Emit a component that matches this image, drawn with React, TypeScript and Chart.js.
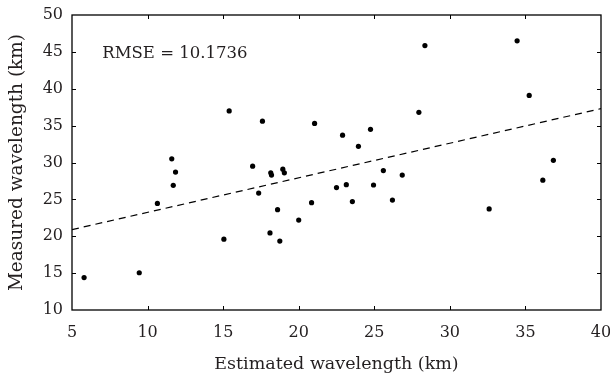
import React, { useEffect, useRef } from "react";
import { Chart, registerables } from "chart.js";

Chart.register(...registerables);

const estimated = [
  5.8, 9.45, 10.65, 11.6, 11.85, 11.7, 15.05, 15.4, 16.95, 17.35, 17.6, 18.1, 18.15,
  18.2, 18.6, 18.75, 18.95, 19.05, 20.0, 20.85, 21.05, 22.5, 22.9, 23.15, 23.55,
  23.95, 24.75, 24.95, 25.6, 26.2, 26.85, 27.95, 28.35, 32.6, 34.45, 35.25, 36.15, 36.85,
];
const measured = [
  14.4, 15.05, 24.45, 30.5, 28.7, 26.9, 19.6, 37.0, 29.5, 25.85, 35.6, 20.45, 28.6,
  28.3, 23.6, 19.35, 29.1, 28.6, 22.2, 24.55, 35.3, 26.6, 33.7, 27.0, 24.7,
  32.2, 34.5, 26.95, 28.9, 24.9, 28.3, 36.8, 45.85, 23.7, 46.5, 39.1, 27.6, 30.3,
];
const fitX = [5, 40];
const fitY = [20.9, 37.3];
const xTicks = [5, 10, 15, 20, 25, 30, 35, 40];
const yTicks = [10, 15, 20, 25, 30, 35, 40, 45, 50];
const rmseLabel = "RMSE = 10.1736";
const xTitle = "Estimated wavelength (km)";
const yTitle = "Measured wavelength (km)";

const FONT = "'DejaVu Serif', serif";
const TEXT = "#231f20";

const framePlugin = {
  id: "frame",
  afterDraw(chart: any) {
    const { ctx, chartArea } = chart;
    const xs = chart.scales.x;
    const ys = chart.scales.y;
    const { left, right, top, bottom } = chartArea;
    ctx.save();
    ctx.strokeStyle = "#000";
    ctx.lineWidth = 1.3;
    ctx.strokeRect(left, top, right - left, bottom - top);
    ctx.lineWidth = 1;
    const len = 4;
    ctx.beginPath();
    xTicks.slice(1, -1).forEach((v) => {
      const px = Math.round(xs.getPixelForValue(v)) + 0.5;
      ctx.moveTo(px, bottom);
      ctx.lineTo(px, bottom - len);
      ctx.moveTo(px, top);
      ctx.lineTo(px, top + len);
    });
    yTicks.slice(1, -1).forEach((v) => {
      const py = Math.round(ys.getPixelForValue(v)) + 0.5;
      ctx.moveTo(left, py);
      ctx.lineTo(left + len, py);
      ctx.moveTo(right, py);
      ctx.lineTo(right - len, py);
    });
    ctx.stroke();
    ctx.fillStyle = TEXT;
    ctx.font = `16.5px ${FONT}`;
    ctx.textBaseline = "middle";
    ctx.textAlign = "left";
    ctx.fillText(rmseLabel, xs.getPixelForValue(7), ys.getPixelForValue(44.8));
    ctx.restore();
  },
};

export default function App() {
  const ref = useRef<HTMLCanvasElement>(null);
  useEffect(() => {
    document.body.style.margin = "0";
    const chart = new Chart(ref.current as HTMLCanvasElement, {
      type: "scatter",
      data: {
        datasets: [
          {
            label: "data",
            data: estimated.map((x, i) => ({ x, y: measured[i] })),
            backgroundColor: "#000",
            borderColor: "#000",
            pointRadius: 2.6,
            pointBorderWidth: 0,
          },
          {
            label: "fit",
            type: "line" as any,
            data: fitX.map((x, i) => ({ x, y: fitY[i] })),
            borderColor: "#000",
            borderWidth: 1.2,
            borderDash: [7, 5],
            pointRadius: 0,
            fill: false,
          } as any,
        ],
      },
      options: {
        responsive: false,
        animation: false,
        layout: { padding: { top: 15, right: 9, left: 0, bottom: 0 } },
        plugins: { legend: { display: false }, tooltip: { enabled: false } },
        scales: {
          x: {
            type: "linear",
            min: 5,
            max: 40,
            afterFit: (s: any) => {
              s.height = 66;
              s.paddingLeft = 0;
              s.paddingRight = 0;
            },
            afterBuildTicks: (s: any) => {
              s.ticks = xTicks.map((v) => ({ value: v }));
            },
            grid: { display: false, drawTicks: false },
            border: { display: false },
            ticks: { color: TEXT, font: { family: FONT, size: 16 }, padding: 13.5, maxRotation: 0 },
            title: {
              display: true,
              text: xTitle,
              color: TEXT,
              font: { family: FONT, size: 17.5 },
              padding: { top: 0, bottom: 1 },
            },
          },
          y: {
            type: "linear",
            min: 10,
            max: 50,
            afterFit: (s: any) => {
              s.width = 72;
              s.paddingTop = 0;
              s.paddingBottom = 0;
            },
            afterBuildTicks: (s: any) => {
              s.ticks = yTicks.map((v) => ({ value: v }));
            },
            grid: { display: false, drawTicks: false },
            border: { display: false },
            ticks: { color: TEXT, font: { family: FONT, size: 16 }, padding: 9 },
            title: {
              display: true,
              text: yTitle,
              color: TEXT,
              font: { family: FONT, size: 18.5 },
              padding: { top: 6, bottom: 0 },
            },
          },
        },
      },
      plugins: [framePlugin],
    });
    return () => chart.destroy();
  }, []);
  return (
    <div style={{ position: "absolute", left: 0, top: 0, width: 610, height: 376, background: "#fff" }}>
      <canvas ref={ref} width={610} height={376} />
    </div>
  );
}
